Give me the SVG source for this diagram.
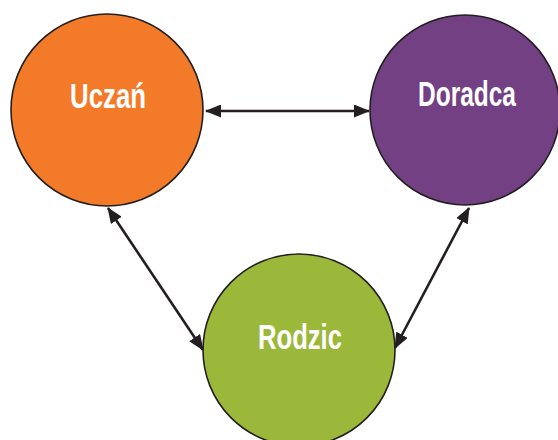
<svg xmlns="http://www.w3.org/2000/svg" width="558" height="440" viewBox="0 0 558 440">
<style>
.node circle{stroke:#231F20;stroke-width:1.6}
.node text{font-family:"Liberation Sans",Arial,sans-serif;font-weight:bold;font-size:35px;fill:#fff;text-anchor:middle}
.conn line{stroke:#231F20;stroke-width:2.6}
</style>
<defs>
<marker id="ah" markerUnits="userSpaceOnUse" markerWidth="16" markerHeight="13" refX="15" refY="6.5" orient="auto-start-reverse" viewBox="0 0 16 13">
<path d="M0,0 L16,6.5 L0,13 z" fill="#231F20"/>
</marker>
</defs>
<rect width="558" height="440" fill="#fff"/>
<g id="uczen" class="node">
<circle cx="107" cy="110" r="96" fill="#F37A28"/>
<text x="108" y="108" textLength="76" lengthAdjust="spacingAndGlyphs">Uczań</text>
</g>
<g id="doradca" class="node">
<circle cx="465" cy="110" r="95" fill="#734084"/>
<text x="467" y="106" textLength="98" lengthAdjust="spacingAndGlyphs">Doradca</text>
</g>
<g id="rodzic" class="node">
<circle cx="299" cy="350" r="96" fill="#9CB83B"/>
<text x="300" y="349" textLength="84" lengthAdjust="spacingAndGlyphs">Rodzic</text>
</g>
<g id="connectors" class="conn">
<line x1="206" y1="111" x2="369" y2="111" marker-start="url(#ah)" marker-end="url(#ah)"/>
<line x1="108" y1="208" x2="203" y2="350" marker-start="url(#ah)" marker-end="url(#ah)"/>
<line x1="469" y1="208" x2="395" y2="348" marker-start="url(#ah)" marker-end="url(#ah)"/>
</g>
</svg>
